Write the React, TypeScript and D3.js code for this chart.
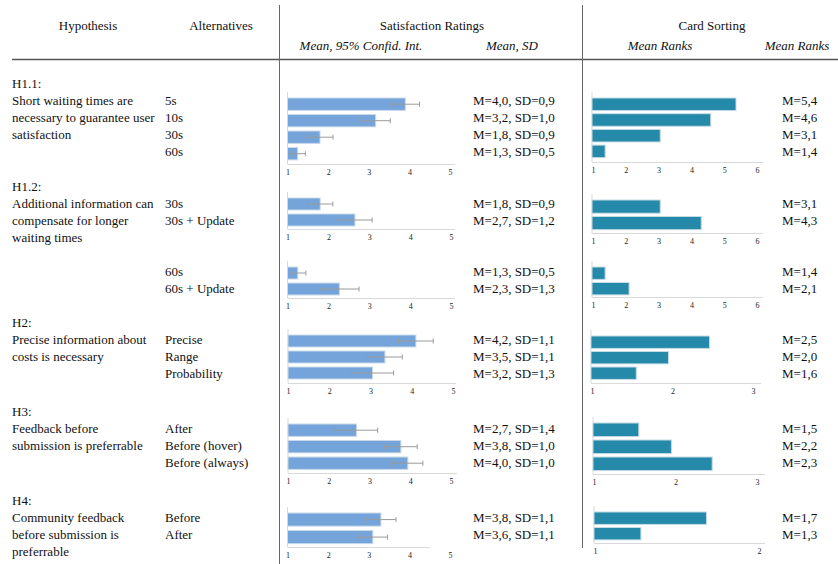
import { useRef, useEffect } from "react";
import * as d3 from "d3";

const hypothesisIds = ["H1.1:", "H1.2:", "H2:", "H3:", "H4:"];
const hypothesisLines = [
  ["Short waiting times are", "necessary to guarantee user", "satisfaction"],
  ["Additional information can", "compensate for longer", "waiting times"],
  ["Precise information about", "costs is necessary"],
  ["Feedback before", "submission is preferrable"],
  ["Community feedback", "before submission is", "preferrable"],
];

const alternatives = [
  ["5s", "10s", "30s", "60s"],
  ["30s", "30s + Update"],
  ["60s", "60s + Update"],
  ["Precise", "Range", "Probability"],
  ["After", "Before (hover)", "Before (always)"],
  ["Before", "After"],
];

// satisfaction: bar means and 95% CI half widths as drawn
const satMeans = [
  [3.9, 3.17, 1.8, 1.25],
  [1.8, 2.65],
  [1.25, 2.27],
  [4.1, 3.35, 3.05],
  [2.68, 3.77, 3.94],
  [3.3, 3.1],
];
const satCI = [
  [0.35, 0.36, 0.32, 0.19],
  [0.31, 0.42],
  [0.2, 0.48],
  [0.42, 0.42, 0.51],
  [0.52, 0.4, 0.37],
  [0.37, 0.36],
];
const satLabels = [
  ["M=4,0, SD=0,9", "M=3,2, SD=1,0", "M=1,8, SD=0,9", "M=1,3, SD=0,5"],
  ["M=1,8, SD=0,9", "M=2,7, SD=1,2"],
  ["M=1,3, SD=0,5", "M=2,3, SD=1,3"],
  ["M=4,2, SD=1,1", "M=3,5, SD=1,1", "M=3,2, SD=1,3"],
  ["M=2,7, SD=1,4", "M=3,8, SD=1,0", "M=4,0, SD=1,0"],
  ["M=3,8, SD=1,1", "M=3,6, SD=1,1"],
];
const satTicks = [1, 2, 3, 4, 5];

// card sorting: mean ranks as drawn
const cardMeans = [
  [5.36, 4.59, 3.05, 1.37],
  [3.05, 4.3],
  [1.37, 2.1],
  [2.46, 1.95, 1.55],
  [1.55, 1.95, 2.45],
  [1.68, 1.28],
];
const cardLabels = [
  ["M=5,4", "M=4,6", "M=3,1", "M=1,4"],
  ["M=3,1", "M=4,3"],
  ["M=1,4", "M=2,1"],
  ["M=2,5", "M=2,0", "M=1,6"],
  ["M=1,5", "M=2,2", "M=2,3"],
  ["M=1,7", "M=1,3"],
];
const cardMax = [6, 6, 6, 3, 3, 2];

const hypothesisGroup = [0, 1, 3, 4, 5];

// panel layout (pixels)
const layout = [
  { row: 100, sTop: 98, sStep: 16.5, sBase: 164, cTop: 98, cStep: 15.7, cBase: 162, sx: [287.5, 450], sEnd: 455, cx: [593, 757], cEnd: 763 },
  { row: 203, sTop: 198, sStep: 16, sBase: 229, cTop: 200, cStep: 16.5, cBase: 233, sx: [287.5, 451], sEnd: 455, cx: [593, 757], cEnd: 763 },
  { row: 271, sTop: 267, sStep: 16, sBase: 298, cTop: 267, cStep: 15.5, cBase: 297, sx: [287.5, 451], sEnd: 455, cx: [593, 757], cEnd: 763 },
  { row: 339, sTop: 335, sStep: 16, sBase: 383, cTop: 336, cStep: 15.5, cBase: 383, sx: [288, 453], sEnd: 456, cx: [592, 753], cEnd: 761 },
  { row: 428, sTop: 424, sStep: 16.5, sBase: 473, cTop: 423, cStep: 17, cBase: 474, sx: [288, 451], sEnd: 457, cx: [594, 757], cEnd: 765 },
  { row: 517, sTop: 513, sStep: 17.5, sBase: 547, cTop: 512, cStep: 15.5, cBase: 543, sx: [287.5, 450], sEnd: 430, cx: [595, 759], cEnd: 765 },
];

const serif = "'Liberation Serif', 'Times New Roman', serif";
const lineH = 17;

const App = () => {
  const svgRef = useRef<SVGSVGElement>(null);

  useEffect(() => {
    const svg = d3.select(svgRef.current);
    svg.selectAll("*").remove();
    svg.attr("font-family", serif);

    // header
    const head = [
      { t: "Hypothesis", x: 88 },
      { t: "Alternatives", x: 221 },
      { t: "Satisfaction Ratings", x: 432 },
      { t: "Card Sorting", x: 712 },
    ];
    svg.selectAll("text.head").data(head).enter().append("text")
      .attr("x", (d) => d.x).attr("y", 30).attr("text-anchor", "middle")
      .attr("font-size", 13).attr("fill", "#111").text((d) => d.t);
    const sub = [
      { t: "Mean, 95% Confid. Int.", x: 361 },
      { t: "Mean, SD", x: 512 },
      { t: "Mean Ranks", x: 660 },
      { t: "Mean Ranks", x: 797 },
    ];
    svg.selectAll("text.sub").data(sub).enter().append("text")
      .attr("x", (d) => d.x).attr("y", 50).attr("text-anchor", "middle")
      .attr("font-size", 13).attr("font-style", "italic").attr("fill", "#111").text((d) => d.t);

    svg.append("line").attr("x1", 12).attr("x2", 838).attr("y1", 59.5).attr("y2", 59.5)
      .attr("stroke", "#555").attr("stroke-width", 1.3);
    svg.append("line").attr("x1", 279.5).attr("x2", 279.5).attr("y1", 5).attr("y2", 564)
      .attr("stroke", "#666").attr("stroke-width", 1);
    svg.append("line").attr("x1", 582.5).attr("x2", 582.5).attr("y1", 5).attr("y2", 548)
      .attr("stroke", "#666").attr("stroke-width", 1);

    // hypotheses
    hypothesisIds.forEach((h, i) => {
      const r = layout[hypothesisGroup[i]].row;
      const g = svg.append("g");
      g.append("text").attr("x", 12).attr("y", r - lineH + 4.5).attr("font-size", 13).attr("fill", "#111").text(h);
      hypothesisLines[i].forEach((t, j) => {
        g.append("text").attr("x", 12).attr("y", r + j * lineH + 4.5).attr("font-size", 13).attr("fill", "#111").text(t);
      });
    });

    alternatives.forEach((alts, gi) => {
      const L = layout[gi];
      // alternatives column
      alts.forEach((a, j) => {
        svg.append("text").attr("x", 165).attr("y", L.row + j * lineH + 4.5)
          .attr("font-size", 13).attr("fill", "#111").text(a);
      });

      // satisfaction panel
      const x = d3.scaleLinear().domain([1, 5]).range(L.sx);
      const y = d3.scaleBand().domain(alts)
        .range([L.sTop, L.sTop + L.sStep * (alts.length - 0.25)])
        .paddingInner(0.25).paddingOuter(0);
      const sp = svg.append("g");
      sp.append("line").attr("x1", L.sx[0]).attr("x2", L.sx[0]).attr("y1", L.sTop - 6).attr("y2", L.sBase)
        .attr("stroke", "#d9d9d9");
      sp.append("line").attr("x1", L.sx[0]).attr("x2", L.sEnd).attr("y1", L.sBase + 0.5).attr("y2", L.sBase + 0.5)
        .attr("stroke", "#d9d9d9");
      const rows = alts.map((a, j) => ({ a, m: satMeans[gi][j], ci: satCI[gi][j] }));
      sp.selectAll("rect").data(rows).enter().append("rect")
        .attr("x", x(1)).attr("y", (d) => y(d.a))
        .attr("width", (d) => x(d.m) - x(1)).attr("height", y.bandwidth())
        .attr("fill", "#74a4d9").attr("stroke", "#c9d9ea").attr("stroke-width", 1);
      const eb = sp.selectAll("g.eb").data(rows).enter().append("g")
        .attr("stroke", "#9a9a9a").attr("stroke-width", 1);
      eb.append("line").attr("x1", (d) => x(d.m - d.ci)).attr("x2", (d) => x(d.m + d.ci))
        .attr("y1", (d) => y(d.a) + y.bandwidth() / 2).attr("y2", (d) => y(d.a) + y.bandwidth() / 2);
      eb.append("line").attr("x1", (d) => x(d.m - d.ci)).attr("x2", (d) => x(d.m - d.ci))
        .attr("y1", (d) => y(d.a) + y.bandwidth() / 2 - 2.5).attr("y2", (d) => y(d.a) + y.bandwidth() / 2 + 2.5);
      eb.append("line").attr("x1", (d) => x(d.m + d.ci)).attr("x2", (d) => x(d.m + d.ci))
        .attr("y1", (d) => y(d.a) + y.bandwidth() / 2 - 2.5).attr("y2", (d) => y(d.a) + y.bandwidth() / 2 + 2.5);
      const ax = sp.append("g").attr("transform", `translate(0,${L.sBase + 2})`)
        .call(d3.axisBottom(x).tickValues(satTicks).tickSize(0).tickFormat(d3.format("d")));
      ax.select(".domain").remove();
      ax.selectAll("text").attr("font-family", serif).attr("font-size", 8).attr("fill", "#222");

      satLabels[gi].forEach((t, j) => {
        svg.append("text").attr("x", 473).attr("y", L.row + j * lineH + 4.5)
          .attr("font-size", 13).attr("fill", "#111").text(t);
      });

      // card sorting panel
      const cx = d3.scaleLinear().domain([1, cardMax[gi]]).range(L.cx);
      const cy = d3.scaleBand().domain(alts)
        .range([L.cTop, L.cTop + L.cStep * (alts.length - 0.2)])
        .paddingInner(0.2).paddingOuter(0);
      const cp = svg.append("g");
      cp.append("line").attr("x1", L.cx[0] - 1).attr("x2", L.cx[0] - 1).attr("y1", L.cTop - 6).attr("y2", L.cBase)
        .attr("stroke", "#d9d9d9");
      cp.append("line").attr("x1", L.cx[0] - 1).attr("x2", L.cEnd).attr("y1", L.cBase + 0.5).attr("y2", L.cBase + 0.5)
        .attr("stroke", "#d9d9d9");
      const crow = alts.map((a, j) => ({ a, m: cardMeans[gi][j] }));
      cp.selectAll("rect").data(crow).enter().append("rect")
        .attr("x", cx(1) - 1).attr("y", (d) => cy(d.a))
        .attr("width", (d) => cx(d.m) - cx(1) + 1).attr("height", cy.bandwidth())
        .attr("fill", "#2589aa").attr("stroke", "#c6dbe4").attr("stroke-width", 1);
      const cax = cp.append("g").attr("transform", `translate(0,${L.cBase + 2})`)
        .call(d3.axisBottom(cx).ticks(cardMax[gi] - 1).tickSize(0).tickFormat(d3.format("d")));
      cax.select(".domain").remove();
      cax.selectAll("text").attr("font-family", serif).attr("font-size", 8).attr("fill", "#222");

      cardLabels[gi].forEach((t, j) => {
        svg.append("text").attr("x", 782).attr("y", L.row + j * lineH + 4.5)
          .attr("font-size", 13).attr("fill", "#111").text(t);
      });
    });
  }, []);

  return (
    <svg
      ref={svgRef}
      width={838}
      height={564}
      style={{ position: "absolute", left: 0, top: 0, background: "#fff" }}
    />
  );
};

export default App;
